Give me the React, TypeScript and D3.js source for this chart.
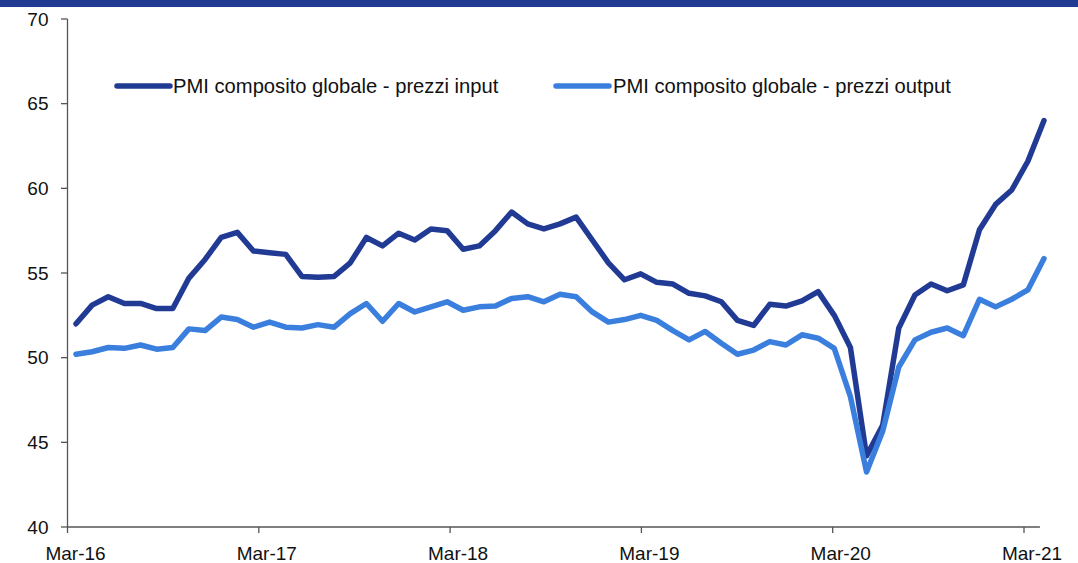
import React from 'react';
import * as d3 from 'd3';

const tickLabels = ['Mar-16', 'Mar-17', 'Mar-18', 'Mar-19', 'Mar-20', 'Mar-21'];
const yTicks = [40, 45, 50, 55, 60, 65, 70];

// monthly, Mar-16 .. Mar-21 (61 months)
const inputPrices = [
  52.0, 53.1, 53.6, 53.2, 53.2, 52.9, 52.9, 54.7, 55.8, 57.1,
  57.4, 56.3, 56.2, 56.1, 54.8, 54.75, 54.8, 55.6, 57.1, 56.6,
  57.35, 56.95, 57.6, 57.5, 56.4, 56.6, 57.5, 58.6, 57.9, 57.6,
  57.9, 58.3, 56.95, 55.6, 54.6, 54.95, 54.45, 54.35, 53.8, 53.65,
  53.3, 52.2, 51.9, 53.15, 53.05, 53.35, 53.9, 52.5, 50.6, 44.2,
  46.0, 51.75, 53.7, 54.35, 53.95, 54.3, 57.55, 59.05, 59.9, 61.6,
  64.0,
];

const outputPrices = [
  50.2, 50.35, 50.6, 50.55, 50.75, 50.5, 50.6, 51.7, 51.6, 52.4,
  52.25, 51.8, 52.1, 51.8, 51.75, 51.95, 51.8, 52.6, 53.2, 52.15,
  53.2, 52.7, 53.0, 53.3, 52.8, 53.0, 53.05, 53.5, 53.6, 53.3,
  53.75, 53.6, 52.7, 52.1, 52.25, 52.5, 52.2, 51.6, 51.05, 51.55,
  50.85, 50.2, 50.45, 50.95, 50.75, 51.35, 51.15, 50.55, 47.7, 43.25,
  45.65, 49.45, 51.05, 51.5, 51.75, 51.3, 53.45, 53.0, 53.45, 54.0,
  55.85,
];

const seriesNames = [
  'PMI composito globale - prezzi input',
  'PMI composito globale - prezzi output',
];
const seriesColors = ['#213b95', '#3a7fdd'];

export default function App() {
  const W = 1078;
  const H = 563;
  const n = inputPrices.length;

  const xData = d3.scaleLinear().domain([0, n - 1]).range([76, 1044]);
  const xTick = d3.scaleLinear().domain([0, n - 1]).range([67.5, 1024]);
  const y = d3.scaleLinear().domain([40, 70]).range([527, 19]);

  const line = d3
    .line<number>()
    .x((_, i) => xData(i))
    .y((d) => y(d));

  const axisColor = '#555555';
  const font = '"Liberation Sans", Arial, sans-serif';
  const fs = 19;
  const legendFs = 20.2;

  const legendItems = [
    { x0: 117, x1: 170, tx: 173 },
    { x0: 556, x1: 609, tx: 613 },
  ];

  return (
    <svg
      width={W}
      height={H}
      style={{ position: 'absolute', left: 0, top: 0, background: '#fff' }}
      fontFamily={font}
    >
      <rect x={0} y={0} width={W} height={7} fill="#213b93" />

      {/* y axis */}
      <line x1={67.5} x2={67.5} y1={y(70)} y2={y(40)} stroke={axisColor} strokeWidth={1.3} />
      {yTicks.map((t) => (
        <g key={t}>
          <line x1={61} x2={67.5} y1={y(t)} y2={y(t)} stroke={axisColor} strokeWidth={1.3} />
          <text x={48.5} y={y(t)} dy="0.35em" textAnchor="end" fontSize={fs} fill="#111">
            {t}
          </text>
        </g>
      ))}

      {/* x axis */}
      <line x1={67.5} x2={xTick(n)} y1={y(40)} y2={y(40)} stroke={axisColor} strokeWidth={1.3} />
      {tickLabels.map((lab, k) => {
        const tx = xTick(k * 12);
        return (
          <g key={lab}>
            <line x1={tx} x2={tx} y1={y(40)} y2={y(40) + 6} stroke={axisColor} strokeWidth={1.3} />
            <text x={tx + 8} y={560} textAnchor="middle" fontSize={fs} fill="#111">
              {lab}
            </text>
          </g>
        );
      })}

      {/* lines */}
      {[inputPrices, outputPrices].map((s, si) => (
        <path
          key={si}
          d={line(s) || ''}
          fill="none"
          stroke={seriesColors[si]}
          strokeWidth={5.5}
          strokeLinejoin="round"
          strokeLinecap="round"
        />
      ))}

      {/* legend */}
      {legendItems.map((it, i) => (
        <g key={i}>
          <line
            x1={it.x0}
            x2={it.x1}
            y1={86}
            y2={86}
            stroke={seriesColors[i]}
            strokeWidth={5.5}
            strokeLinecap="round"
          />
          <text x={it.tx} y={86} dy="0.35em" fontSize={legendFs} fill="#111">
            {seriesNames[i]}
          </text>
        </g>
      ))}
    </svg>
  );
}
